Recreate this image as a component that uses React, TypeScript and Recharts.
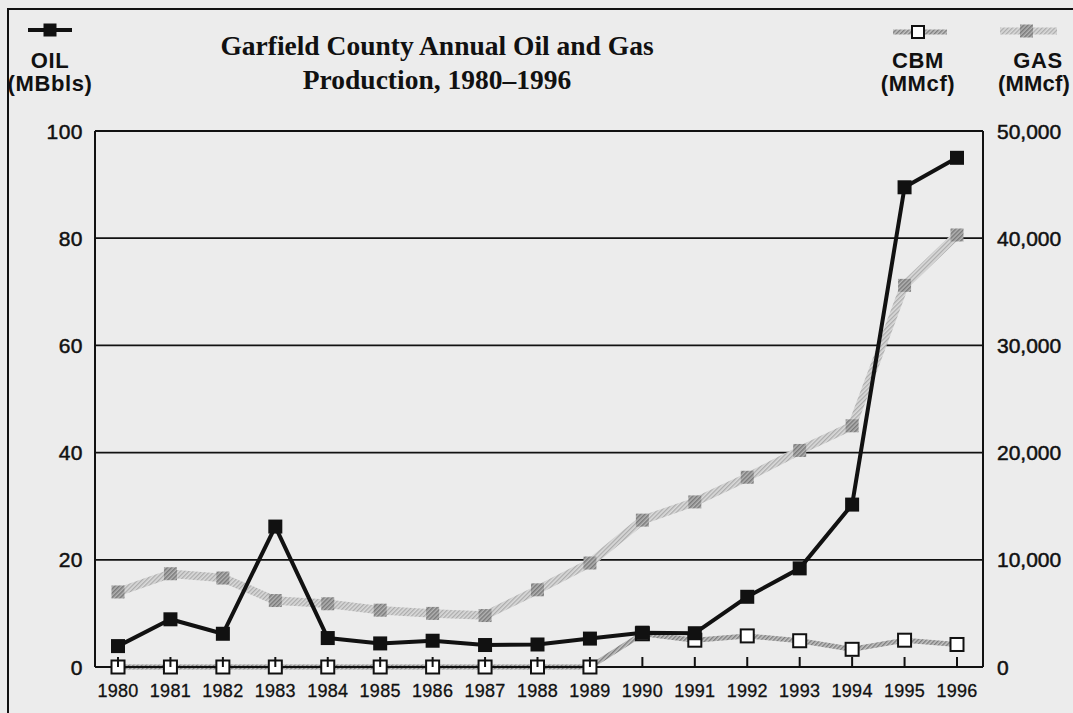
import React from 'react';
import { LineChart, Line, XAxis, YAxis, CartesianGrid } from 'recharts';

const years = ['1980', '1981', '1982', '1983', '1984', '1985', '1986', '1987', '1988', '1989', '1990', '1991', '1992', '1993', '1994', '1995', '1996'];
const oilMBbls = [3.9, 8.9, 6.2, 26.2, 5.4, 4.4, 4.9, 4.1, 4.2, 5.3, 6.4, 6.3, 13.1, 18.4, 30.3, 89.5, 95.0];
const gasMMcf = [7000, 8700, 8300, 6200, 5900, 5300, 5000, 4800, 7200, 9700, 13700, 15400, 17700, 20200, 22500, 35600, 40300];
const cbmMMcf = [0, 0, 0, 0, 0, 0, 0, 0, 0, 0, 3100, 2500, 2900, 2450, 1650, 2500, 2100];
const oilTicks = [0, 20, 40, 60, 80, 100];
const gasTicks = [0, 10000, 20000, 30000, 40000, 50000];

const data = years.map((year, i) => ({ year, oil: oilMBbls[i], gas: gasMMcf[i], cbm: cbmMMcf[i] }));

const BG = '#ececec';
const INK = '#111';
const SANS = '"Liberation Sans", Arial, Helvetica, sans-serif';
const SERIF = '"Liberation Serif", "Times New Roman", serif';

const OilDot = (props: any) => {
  const { cx, cy, index } = props;
  if (cx == null || cy == null) return <g key={`o${index}`} />;
  return <rect key={`o${index}`} x={cx - 7} y={cy - 7} width={14} height={14} fill={INK} />;
};
const GasDot = (props: any) => {
  const { cx, cy, index } = props;
  if (cx == null || cy == null) return <g key={`g${index}`} />;
  return <rect key={`g${index}`} x={cx - 6.5} y={cy - 6.5} width={13} height={13} fill="url(#hatchMarker)" />;
};
const CbmDot = (props: any) => {
  const { cx, cy, index } = props;
  if (cx == null || cy == null) return <g key={`c${index}`} />;
  return <rect key={`c${index}`} x={cx - 6.5} y={cy - 6.5} width={13} height={13} fill="#fff" stroke={INK} strokeWidth={2} />;
};

const LeftTick = (props: any) => {
  const { x, y, payload } = props;
  return (
    <text x={x} y={y} dy="0.36em" textAnchor="end" fontFamily={SANS} fontSize={21} letterSpacing={0.5} fill={INK} stroke={INK} strokeWidth={0.5}>
      {payload.value}
    </text>
  );
};
const RightTick = (props: any) => {
  const { x, y, payload } = props;
  return (
    <text x={x} y={y} dy="0.36em" textAnchor="start" fontFamily={SANS} fontSize={21} fill={INK} stroke={INK} strokeWidth={0.5}>
      {Number(payload.value).toLocaleString('en-US')}
    </text>
  );
};
const BottomTick = (props: any) => {
  const { x, y, payload } = props;
  return (
    <g>
      <rect x={x - 1} y={y - 10} width={2} height={10} fill={INK} />
      <text x={x} y={y + 17} dy="0.71em" textAnchor="middle" fontFamily={SANS} fontSize={18} letterSpacing={0.3} fill={INK} stroke={INK} strokeWidth={0.3}>
        {payload.value}
      </text>
    </g>
  );
};

export default function App() {
  return (
    <div style={{ position: 'absolute', left: 0, top: 0, width: 1073, height: 713, background: BG, overflow: 'hidden' }}>
      <svg width={0} height={0} style={{ position: 'absolute' }}>
        <defs>
          <pattern id="hatchDark" patternUnits="userSpaceOnUse" width={3} height={3} patternTransform="rotate(45)">
            <rect width={3} height={3} fill="#c4c4c4" />
            <rect width={1.4} height={3} fill="#7e7e7e" />
          </pattern>
          <pattern id="hatchLight" patternUnits="userSpaceOnUse" width={3} height={3} patternTransform="rotate(45)">
            <rect width={3} height={3} fill="#dadada" />
            <rect width={1.3} height={3} fill="#acacac" />
          </pattern>
          <pattern id="hatchMarker" patternUnits="userSpaceOnUse" width={3} height={3} patternTransform="rotate(45)">
            <rect width={3} height={3} fill="#b4b4b4" />
            <rect width={1.5} height={3} fill="#7a7a7a" />
          </pattern>
        </defs>
      </svg>
      <LineChart width={1073} height={713} data={data} margin={{ top: 131, right: 10, bottom: 0, left: 35 }}>
        <CartesianGrid yAxisId="left" vertical={false} stroke={INK} strokeWidth={1.8} />
        <XAxis
          dataKey="year"
          padding={{ left: 23, right: 26 }}
          height={46}
          axisLine={{ stroke: INK, strokeWidth: 2 }}
          tickLine={false}
          tickSize={0}
          tickMargin={0}
          tick={<BottomTick />}
          interval={0}
        />
        <YAxis
          yAxisId="left"
          domain={[0, 100]}
          ticks={oilTicks}
          width={60}
          axisLine={{ stroke: INK, strokeWidth: 2 }}
          tickLine={false}
          tickSize={6}
          tickMargin={6}
          tick={<LeftTick />}
        />
        <YAxis
          yAxisId="right"
          orientation="right"
          domain={[0, 50000]}
          ticks={gasTicks}
          width={80}
          axisLine={{ stroke: INK, strokeWidth: 2 }}
          tickLine={false}
          tickSize={6}
          tickMargin={8}
          tick={<RightTick />}
        />
        <Line yAxisId="right" dataKey="gas" type="linear" stroke="url(#hatchLight)" strokeWidth={8.5} strokeLinejoin="round" dot={GasDot} activeDot={false} isAnimationActive={false} />
        <Line yAxisId="right" dataKey="cbm" type="linear" stroke="url(#hatchDark)" strokeWidth={5} strokeLinejoin="round" dot={CbmDot} activeDot={false} isAnimationActive={false} />
        <Line yAxisId="left" dataKey="oil" type="linear" stroke={INK} strokeWidth={4} strokeLinejoin="round" dot={OilDot} activeDot={false} isAnimationActive={false} />
      </LineChart>
      <svg width={1073} height={713} style={{ position: 'absolute', left: 0, top: 0, pointerEvents: 'none' }}>
        <rect x={8} y={9} width={1100} height={760} fill="none" stroke={INK} strokeWidth={2} />
        <text x={437} y={55} textAnchor="middle" fontFamily={SERIF} fontWeight="bold" fontSize={27.5} fill={INK}>Garfield County Annual Oil and Gas</text>
        <text x={437} y={89} textAnchor="middle" fontFamily={SERIF} fontWeight="bold" fontSize={27.5} fill={INK}>Production, 1980–1996</text>

        <line x1={28} y1={30} x2={72} y2={30} stroke={INK} strokeWidth={4} />
        <rect x={43.5} y={23.5} width={13} height={13} fill={INK} />
        <text x={50} y={68} textAnchor="middle" fontFamily={SANS} fontWeight="bold" fontSize={22} letterSpacing={0.6} fill={INK}>OIL</text>
        <text x={50} y={91} textAnchor="middle" fontFamily={SANS} fontWeight="bold" fontSize={22} letterSpacing={0.6} fill={INK}>(MBbls)</text>

        <line x1={893} y1={32} x2={947} y2={32} stroke="url(#hatchDark)" strokeWidth={5} />
        <rect x={912} y={26} width={12} height={12} fill="#fff" stroke={INK} strokeWidth={2} />
        <text x={918} y={68} textAnchor="middle" fontFamily={SANS} fontWeight="bold" fontSize={22} letterSpacing={0.6} fill={INK}>CBM</text>
        <text x={918} y={91} textAnchor="middle" fontFamily={SANS} fontWeight="bold" fontSize={22} letterSpacing={0.6} fill={INK}>(MMcf)</text>

        <line x1={1000} y1={31} x2={1057} y2={31} stroke="url(#hatchLight)" strokeWidth={7} />
        <rect x={1020} y={24.5} width={13} height={13} fill="url(#hatchMarker)" />
        <text x={1038} y={68} textAnchor="middle" fontFamily={SANS} fontWeight="bold" fontSize={22} letterSpacing={0.6} fill={INK}>GAS</text>
        <text x={1034} y={91} textAnchor="middle" fontFamily={SANS} fontWeight="bold" fontSize={22} letterSpacing={0.2} fill={INK}>(MMcf)</text>
      </svg>
    </div>
  );
}
